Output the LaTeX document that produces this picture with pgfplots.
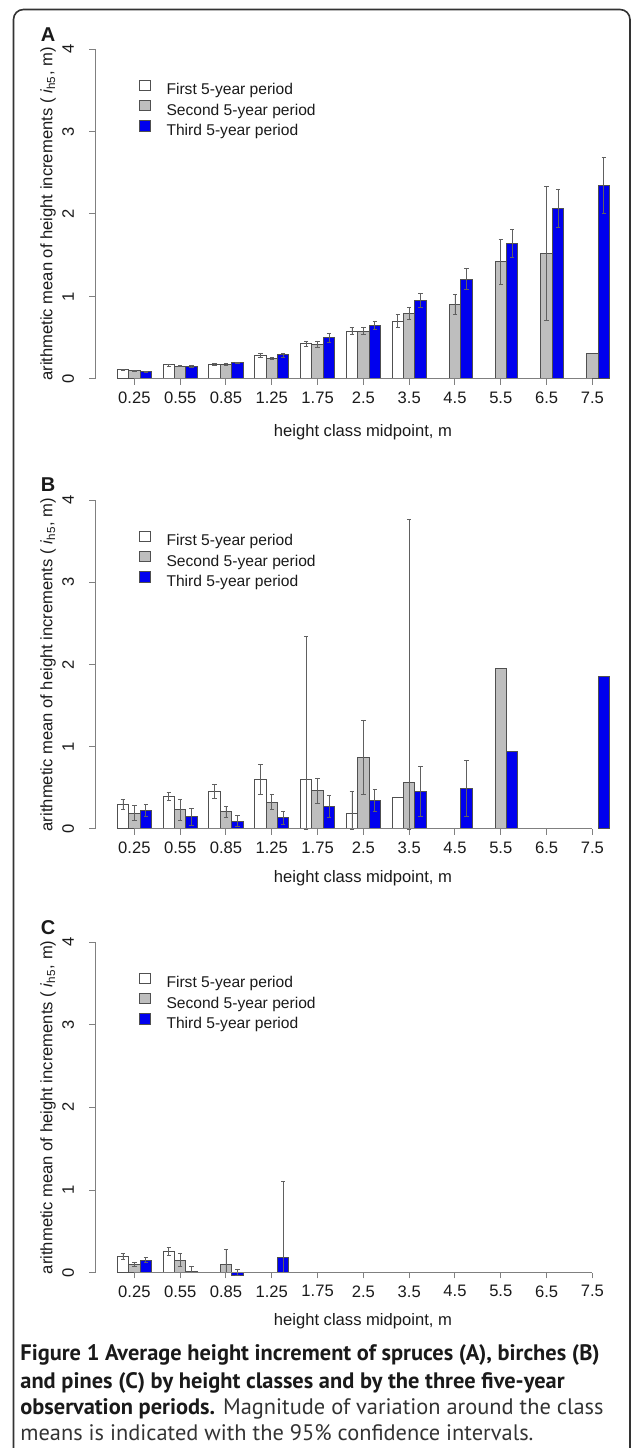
\documentclass[border=0pt]{standalone}
\usepackage{fontspec}
\setmainfont{Liberation Sans}
\newfontfamily\capfont{PT Sans}
\usepackage{graphicx}
\usepackage{pgfplots}
\pgfplotsset{compat=1.18}

\definecolor{barline}{HTML}{505050}
\definecolor{axisgray}{HTML}{808080}
\definecolor{ebar}{HTML}{606060}
\definecolor{rblue}{HTML}{0000EE}
\definecolor{rgrey}{HTML}{BEBEBE}
\definecolor{txt}{HTML}{1A1A1A}
\definecolor{framecol}{HTML}{333333}

\pgfplotsset{
  panel/.style={
    scale only axis, width=260.15pt, height=165pt,
    xmin=-0.86, xmax=10.5, ymin=0, ymax=4,
    clip=false,
    axis line style={draw=none},
    tick pos=left, tick align=outside,
    major tick length=2.8pt,
    tick style={axisgray, line width=0.5pt},
    xtick={0,...,10},
    xticklabels={0.25,0.55,0.85,1.25,1.75,2.5,3.5,4.5,5.5,6.5,7.5},
    ytick={0,1,2,3,4},
    yticklabels={\rotatebox{90}{0},\rotatebox{90}{1},\rotatebox{90}{2},\rotatebox{90}{3},\rotatebox{90}{4}},
    ticklabel style={font=\fontsize{8.3}{9}\selectfont, text=txt},
    xticklabel style={inner sep=0pt, anchor=north},
    yticklabel style={inner sep=0pt, anchor=east, xshift=-7.5pt},
    xticklabel shift=3.4pt,
    xlabel={height class midpoint, m},
    ylabel={arithmetic mean of height increments ( \textit{i}\textsubscript{h5}, m)},
    label style={font=\fontsize{8.3}{9}\selectfont, text=txt},
    xlabel style={at={(axis description cs:0.515,0)}, anchor=center, yshift=-26.5pt},
    ylabel style={at={(axis description cs:-0.0903,0.5)}, anchor=center},
    legend cell align=left,
    legend style={at={(axis description cs:0.0846,0.907)}, anchor=north west,
      draw=none, fill=none, inner sep=0pt, outer sep=0pt,
      row sep=0.7pt, column sep=8pt,
      nodes={inner sep=0pt, text height=6pt, text depth=1.8pt, text=txt},
      font=\fontsize{7.8}{9}\selectfont},
  },
  lgbox/.style={legend image code/.code={
      \draw[##1, line width=0.5pt] (0pt,0pt) rectangle (5.25pt,5.25pt);}},
  ebars/.style={
    error bars/y dir=both, error bars/y explicit,
    error bars/error bar style={ebar, line width=0.4pt},
    error bars/error mark options={ebar, line width=0.4pt, rotate=90, mark size=1.1pt}},
  pbar/.style={ybar, bar width=0.25, bar shift=0pt, draw=barline, line width=0.5pt,
    lgbox, ebars},
  first/.style={pbar, fill=white},
  second/.style={pbar, fill=rgrey},
  third/.style={pbar, fill=rblue},
}

\begin{document}
\begin{tikzpicture}
\useasboundingbox (0,0) rectangle (316.5pt,724pt);
\draw[framecol, line width=0.8pt, rounded corners=5pt] (6.75pt,-20pt) rectangle (315pt,719.25pt);

% ---------------- A: spruces
\begin{axis}[panel, at={(47.5pt,534.5pt)}, anchor=south west]
\addplot[first] coordinates {
  (-0.25,0.112) +- (0,0.005) (0.75,0.170) +- (0,0.012) (1.75,0.178) +- (0,0.012)
  (2.75,0.283) +- (0,0.025) (3.75,0.428) +- (0,0.030) (4.75,0.578) +- (0,0.042)
  (5.75,0.700) +- (0,0.077) (9.75,0.005)
};
\addlegendentry{First 5-year period}
\addplot[second] coordinates {
  (0,0.100) +- (0,0.004) (1,0.157) +- (0,0.008) (2,0.180) +- (0,0.010)
  (3,0.252) +- (0,0.014) (4,0.418) +- (0,0.034) (5,0.578) +- (0,0.042)
  (6,0.796) +- (0,0.073) (7,0.900) +- (0,0.120) (8,1.420) +- (0,0.268)
  (9,1.519) +- (0,0.810) (10,0.303)
};
\addlegendentry{Second 5-year period}
\addplot[third] coordinates {
  (0.25,0.085) +- (0,0.004) (1.25,0.152) +- (0,0.007) (2.25,0.198) +- (0,0.006)
  (3.25,0.291) +- (0,0.024) (4.25,0.497) +- (0,0.052) (5.25,0.650) +- (0,0.050)
  (6.25,0.950) +- (0,0.085) (7.25,1.212) +- (0,0.130) (8.25,1.644) +- (0,0.172)
  (9.25,2.069) +- (0,0.235) (10.25,2.343) +- (0,0.340)
};
\addlegendentry{Third 5-year period}
\draw[axisgray, line width=0.5pt] (axis cs:-0.86,0) -- (axis cs:-0.86,4);
\draw[axisgray, line width=0.5pt] (axis cs:0,0) -- (axis cs:10,0);
\end{axis}

% ---------------- B: birches
\begin{axis}[panel, at={(47.5pt,309.5pt)}, anchor=south west, height=164.5pt,
  xlabel style={yshift=2pt}]
\addplot[first] coordinates {
  (-0.25,0.300) +- (0,0.058) (0.75,0.397) +- (0,0.050) (1.75,0.457) +- (0,0.085)
  (2.75,0.600) +- (0,0.185) (3.75,0.607) += (0,1.730) -= (0,0.607)
  (4.75,0.186) += (0,0.271) -= (0,0.186) (5.75,0.377)
};
\addlegendentry{First 5-year period}
\addplot[second] coordinates {
  (0,0.194) +- (0,0.090) (1,0.235) +- (0,0.130) (2,0.210) +- (0,0.065)
  (3,0.328) +- (0,0.090) (4,0.466) +- (0,0.155) (5,0.874) +- (0,0.450)
  (6,0.567) += (0,3.200) -= (0,0.567) (8,1.955)
};
\addlegendentry{Second 5-year period}
\addplot[third] coordinates {
  (0.25,0.227) +- (0,0.068) (1.25,0.146) +- (0,0.105) (2.25,0.097) +- (0,0.065)
  (3.25,0.138) +- (0,0.077) (4.25,0.275) +- (0,0.130) (5.25,0.348) +- (0,0.138)
  (6.25,0.457) +- (0,0.300) (7.25,0.494) +- (0,0.344) (8.25,0.945)
  (10.25,1.854)
};
\addlegendentry{Third 5-year period}
\draw[axisgray, line width=0.5pt] (axis cs:-0.86,0) -- (axis cs:-0.86,4);
\draw[axisgray, line width=0.5pt] (axis cs:0,0) -- (axis cs:10,0);
\end{axis}

% ---------------- C: pines
\begin{axis}[panel, at={(47.5pt,87.65pt)}, anchor=south west, height=165.35pt,
  xlabel style={yshift=2.2pt}]
\addplot[first] coordinates {
  (-0.25,0.194) +- (0,0.035) (0.75,0.252) +- (0,0.048)
};
\addlegendentry{First 5-year period}
\addplot[second] coordinates {
  (0,0.103) +- (0,0.026) (1,0.153) +- (0,0.077) (2,0.100) += (0,0.180) -= (0,0.100)
};
\addlegendentry{Second 5-year period}
\addplot[third] coordinates {
  (0.25,0.151) +- (0,0.030) (1.25,0.016) += (0,0.060) -= (0,0.016)
  (2.25,-0.035) += (0,0.080) -= (0,0) (3.25,0.181) += (0,0.920) -= (0,0.181)
};
\addlegendentry{Third 5-year period}
\draw[axisgray, line width=0.5pt] (axis cs:-0.86,0) -- (axis cs:-0.86,4);
\draw[axisgray, line width=0.5pt] (axis cs:0,0) -- (axis cs:10,0);
\end{axis}

% panel letters
\node[font=\bfseries\fontsize{10}{11}\selectfont, text=txt] at (24pt,706.5pt) {A};
\node[font=\bfseries\fontsize{10}{11}\selectfont, text=txt] at (24pt,481.5pt) {B};
\node[font=\bfseries\fontsize{10}{11}\selectfont, text=txt] at (24pt,260pt) {C};

% caption
\begin{scope}[every node/.style={anchor=base west, inner sep=0pt, text=txt,
    font=\capfont\fontsize{11.2}{13}\selectfont}]
\node at (10pt,43.5pt) {\bfseries Figure 1 Average height increment of spruces (A), birches (B)};
\node at (10pt,30pt) {\bfseries and pines (C) by height classes and by the three five-year};
\node at (10pt,16.5pt) {{\bfseries observation periods.} {\color{black!80}Magnitude of variation around the class}};
\node[text=black!80] at (10pt,3.5pt) {means is indicated with the 95\% confidence intervals.};
\end{scope}
\end{tikzpicture}
\end{document}
